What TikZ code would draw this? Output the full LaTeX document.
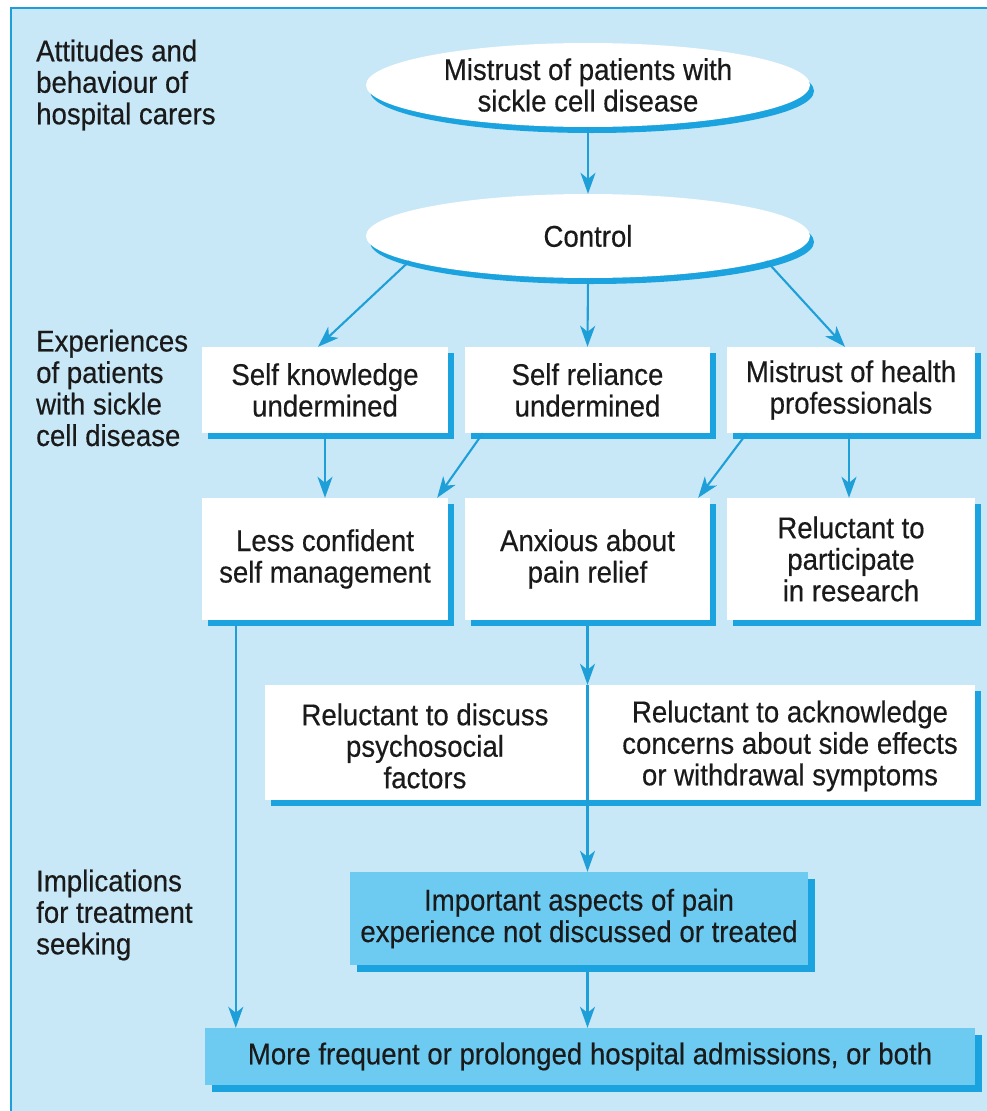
\documentclass[tikz,border=0pt]{standalone}
\usepackage{fontspec}
\setmainfont{Liberation Sans}[FakeStretch=0.92,FakeBold=0.4]
\usetikzlibrary{shapes.geometric,shadows,arrows.meta,calc}
\definecolor{bgblue}{HTML}{C8E8F8}
\definecolor{lineblue}{HTML}{1E9FD8}
\definecolor{shblue}{HTML}{1AA3DE}
\definecolor{midblue}{HTML}{6DCBF2}
\definecolor{txt}{HTML}{1A1A1A}
\tikzset{
  every node/.style={text=txt, font=\fontsize{30}{31.5}\selectfont},
  wbox/.style={rectangle, fill=white, inner sep=0pt, align=center,
    drop shadow={shadow xshift=6pt, shadow yshift=-6pt, opacity=1, fill=shblue}},
  bbox/.style={rectangle, fill=midblue, inner sep=0pt, align=center,
    drop shadow={shadow xshift=7pt, shadow yshift=-7pt, opacity=1, fill=shblue}},
  oval/.style={ellipse, fill=white, inner sep=0pt, align=center,
    minimum width=444pt, minimum height=84pt,
    drop shadow={shadow xshift=4pt, shadow yshift=-6pt, opacity=1, fill=shblue}},
  lbl/.style={anchor=west, align=left, inner sep=0pt},
  plain/.style={align=center, inner sep=0pt},
  arr/.style={draw=lineblue, line width=2.1pt, -{Stealth[length=21pt,width=15pt,inset=6pt]}}
}
\begin{document}
\begin{tikzpicture}[x=1pt,y=-1pt]
\useasboundingbox (0,0) rectangle (987,1111);
\fill[white] (0,0) rectangle (987,1111);
\fill[bgblue] (11,8) rectangle (987,1111);
\draw[lineblue, line width=2pt] (11,1111) -- (11,8) -- (987,8);

% side labels
\node[lbl] (l1) at (36,85) {Attitudes and\\behaviour of\\hospital carers};
\node[lbl] (l2) at (36,388) {Experiences\\of patients\\with sickle\\cell disease};
\node[lbl] (l3) at (36,915) {Implications\\for treatment\\seeking};

% ellipses
\node[oval] (mis) at (588,85) {Mistrust of patients with\\sickle cell disease};
\node[oval] (ctl) at (588,236) {Control};

% row 1
\node[wbox, minimum width=246pt, minimum height=86pt] (A) at (325,390) {Self knowledge\\undermined};
\node[wbox, minimum width=245pt, minimum height=86pt] (B) at (587.5,390) {Self reliance\\undermined};
\node[wbox, minimum width=248pt, minimum height=86pt] (C) at (851,390) {Mistrust of health\\professionals};

% row 2
\node[wbox, minimum width=246pt, minimum height=122pt] (D) at (325,559) {Less confident\\self management};
\node[wbox, minimum width=245pt, minimum height=122pt] (E) at (587.5,559) {Anxious about\\pain relief};
\node[wbox, minimum width=248pt, minimum height=122pt] (F) at (851,559) {Reluctant to\\participate\\in research};

% row 3
\node[wbox, minimum width=710pt, minimum height=115pt] (R3) at (620,742.5) {};
\node[plain] (r3l) at (425,746) {Reluctant to discuss\\psychosocial\\factors};
\node[plain] (r3r) at (790,746) {Reluctant to acknowledge\\concerns about side effects\\or withdrawal symptoms};

% blue boxes
\node[bbox, minimum width=458pt, minimum height=93pt] (imp) at (579,918.5) {Important aspects of pain\\experience not discussed or treated};
\node[bbox, minimum width=770pt, minimum height=57pt] (fin) at (590,1056.5) {More frequent or prolonged hospital admissions, or both};

% connectors
\draw[arr] (mis.south) -- (ctl.north);
\draw[arr] (ctl.188) -- ([xshift=-7pt]A.north);
\draw[arr] (ctl.south) -- (B.north);
\draw[arr] (ctl.352) -- ([xshift=-6pt]C.north);
\draw[arr] (A.south) -- (D.north);
\draw[arr] ([xshift=18pt]B.south west) -- ([xshift=-11pt]D.north east);
\draw[arr] ([xshift=20pt]C.south west) -- ([xshift=-12pt]E.north east);
\draw[arr] ([xshift=-2pt]C.south) -- ([xshift=-2pt]F.north);
\draw[arr] ([yshift=-6pt]E.south) -- (E.south |- R3.north);
\draw[arr] (E.south |- R3.north) -- (E.south |- imp.north);
\draw[arr] ([yshift=-7pt]E.south |- imp.south) -- (E.south |- fin.north);
\draw[arr] ([xshift=34pt,yshift=-6pt]D.south west) -- ([xshift=34pt]D.south west |- fin.north);
\end{tikzpicture}
\end{document}
